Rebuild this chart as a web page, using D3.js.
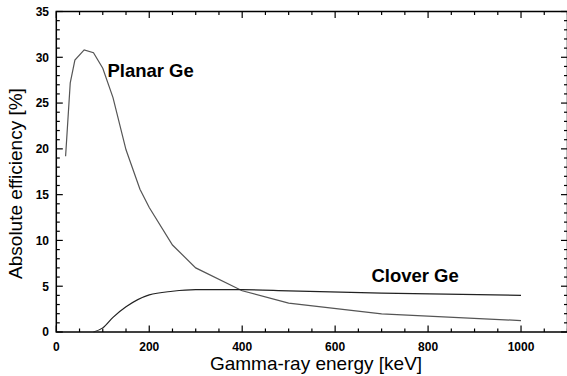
<!DOCTYPE html>
<html><head><meta charset="utf-8">
<script src="https://cdn.jsdelivr.net/npm/d3@7"></script>
<style>body{margin:0;background:#fff}svg{display:block}text{font-family:"Liberation Sans",Arial,Helvetica,sans-serif}</style>
</head><body>
<svg id="c" width="567" height="376"></svg>
<script>
const planarE = [20, 30, 40, 60, 80, 100, 122, 150, 180, 200, 250, 300, 400, 500, 700, 1000];
const planarEff = [19.2, 27.2, 29.7, 30.8, 30.5, 28.8, 25.6, 19.9, 15.6, 13.6, 9.5, 7.0, 4.5, 3.15, 1.97, 1.25];
const cloverE = [80, 100, 122, 150, 200, 250, 300, 400, 500, 700, 1000];
const cloverEff = [0.0, 0.45, 1.6, 2.75, 4.05, 4.45, 4.62, 4.62, 4.5, 4.25, 4.0];
const xMajorTicks = [0, 200, 400, 600, 800, 1000];
const yMajorTicks = [0, 5, 10, 15, 20, 25, 30, 35];
const labels = [{text: "Planar Ge", e: 110, v: 27.9}, {text: "Clover Ge", e: 678, v: 5.45}];

const svg = d3.select("#c");
const L = 56.3, R = 567.5, T = 11.5, B = 332;
const x = d3.scaleLinear().domain([0, 1100]).range([L, R]);
const y = d3.scaleLinear().domain([0, 35]).range([B, T]);

const xMinor = d3.range(0, 1101, 50);
const yMinor = d3.range(0, 36, 1);

const g = svg.append("g");
// ticks (inside) on four sides
function tick(x1, y1, x2, y2) {
  g.append("line").attr("x1", x1).attr("y1", y1).attr("x2", x2).attr("y2", y2)
    .attr("stroke", "#000").attr("stroke-width", 1.2);
}
xMinor.forEach(v => {
  const len = (v % 200 === 0) ? 6.5 : 3.5;
  tick(x(v), B, x(v), B - len);
  tick(x(v), T, x(v), T + len);
});
yMinor.forEach(v => {
  const len = (v % 5 === 0) ? 6.5 : 3.5;
  tick(L, y(v), L + len, y(v));
  tick(R, y(v), R - len, y(v));
});
g.append("rect").attr("x", L).attr("y", T).attr("width", R - L).attr("height", B - T)
  .attr("fill", "none").attr("stroke", "#000").attr("stroke-width", 1.5);

// tick labels
svg.append("g").selectAll("text").data(xMajorTicks).join("text")
  .attr("x", d => x(d)).attr("y", 351).attr("text-anchor", "middle")
  .attr("font-size", 12).attr("font-weight", "bold").text(d => d);
svg.append("g").selectAll("text").data(yMajorTicks).join("text")
  .attr("x", 49).attr("y", d => y(d) + 4.3).attr("text-anchor", "end")
  .attr("font-size", 12).attr("font-weight", "bold").text(d => d);

// axis titles
svg.append("text").attr("x", 316).attr("y", 370).attr("text-anchor", "middle")
  .attr("font-size", 19).text("Gamma-ray energy [keV]");
svg.append("text").attr("transform", "translate(22,183.5) rotate(-90)").attr("text-anchor", "middle")
  .attr("font-size", 19).text("Absolute efficiency [%]");

// curves
const line = d3.line().x(d => x(d[0])).y(d => y(d[1]));
const planar = planarE.map((e, i) => [e, planarEff[i]]);
const clover = cloverE.map((e, i) => [e, cloverEff[i]]);
svg.append("path").datum(planar).attr("d", line).attr("fill", "none")
  .attr("stroke", "#555").attr("stroke-width", 1.2);
svg.append("path").datum(clover).attr("d", d3.line().curve(d3.curveMonotoneX).x(d => x(d[0])).y(d => y(d[1])))
  .attr("fill", "none").attr("stroke", "#222").attr("stroke-width", 1.2);

svg.append("g").selectAll("text").data(labels).join("text")
  .attr("x", d => x(d.e)).attr("y", d => y(d.v)).attr("font-size", 18.5).attr("font-weight", "bold")
  .text(d => d.text);
</script>
</body></html>
